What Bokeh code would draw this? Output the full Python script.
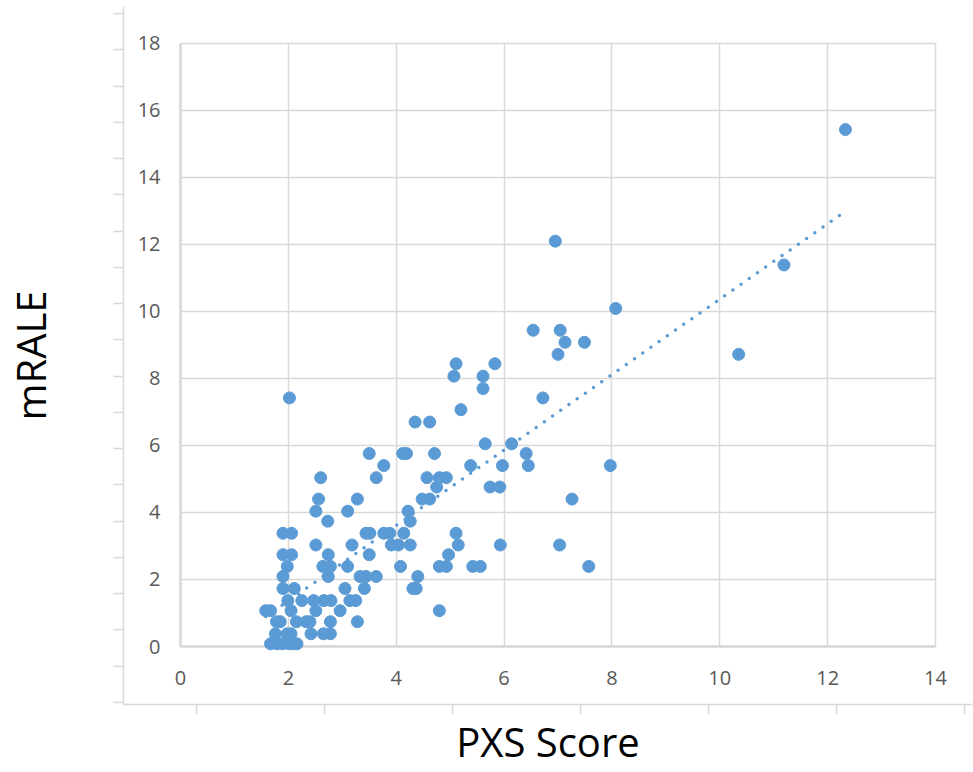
import numpy as np
from bokeh.plotting import figure
from bokeh.models import (Range1d, LinearAxis, Grid, FixedTicker, SingleIntervalTicker,
                          ColumnDataSource, CustomLabelingPolicy)
from bokeh.embed import file_html
from bokeh.resources import INLINE

# ---- data (PXS Score vs mRALE) ----
pxs_score = [
    1.67, 1.79, 1.89, 2.01, 2.10, 2.16,
    1.76, 1.98, 2.05, 2.42, 2.65, 2.78,
    1.78, 1.85, 2.15, 2.33, 2.40, 2.78, 3.28,
    1.58, 1.67, 2.05, 2.51, 2.96, 4.80,
    1.99, 2.25, 2.47, 2.66, 2.79, 3.14, 3.25,
    1.90, 2.11, 3.05, 3.41, 4.31, 4.37,
    1.90, 2.74, 3.33, 3.44, 3.63, 4.40,
    1.98, 2.64, 2.78, 3.10, 4.08, 4.80, 4.93, 5.42, 5.56, 7.57,
    1.90, 2.06, 2.74, 3.50, 4.97,
    2.51, 3.18, 3.91, 4.04, 4.26, 5.15, 5.93, 7.03,
    1.90, 2.06, 3.44, 3.51, 3.77, 3.88, 4.14, 5.11,
    2.73, 4.26,
    2.51, 3.10, 4.22,
    2.56, 3.28, 4.48, 4.62, 7.26,
    4.75, 5.74, 5.92,
    2.60, 3.63, 4.57, 4.80, 4.93,
    3.77, 5.38, 5.97, 6.45, 7.97,
    3.50, 4.12, 4.19, 4.71, 6.41,
    5.65, 6.14,
    4.35, 4.62,
    5.20,
    2.02, 6.72,
    5.61,
    5.07, 5.61,
    5.11, 5.83,
    7.00, 10.35,
    7.13, 7.49,
    6.54, 7.04,
    8.07,
    11.19,
    6.95,
    12.33,
]
mrale = (
    [0.08] * 6 + [0.38] * 6 + [0.74] * 7 + [1.07] * 6 + [1.37] * 7 + [1.73] * 6 +
    [2.09] * 6 + [2.39] * 10 + [2.74] * 5 + [3.03] * 8 + [3.38] * 8 + [3.74] * 2 +
    [4.04] * 3 + [4.40] * 5 + [4.76] * 3 + [5.04] * 5 + [5.40] * 5 + [5.76] * 5 +
    [6.05] * 2 + [6.70] * 2 + [7.07] * 1 + [7.42] * 2 + [7.70] * 1 + [8.07] * 2 +
    [8.44] * 2 + [8.72] * 2 + [9.08] * 2 + [9.44] * 2 + [10.09] * 1 + [11.39] * 1 +
    [12.10] * 1 + [15.43] * 1
)

x_ticks = [0, 2, 4, 6, 8, 10, 12, 14]
y_ticks = [0, 2, 4, 6, 8, 10, 12, 14, 16, 18]
x_title = "PXS Score"
y_title = "mRALE"

# linear trendline fitted to the points (Excel-style, spans the data range)
coef = np.polyfit(pxs_score, mrale, 1)
trend_x = [min(pxs_score), max(pxs_score)]
trend_y = list(np.polyval(coef, trend_x))

# ---- styling ----
BLUE = "#5B9BD5"
GRID = "#d9d9d9"
AXIS = "#bfbfbf"
LABEL = "#595959"
FONT = "Open Sans"

p = figure(width=973, height=772,
           x_range=Range1d(-1.0569, 14.686), y_range=Range1d(-1.7313, 19.104),
           x_axis_type=None, y_axis_type=None,
           output_backend="svg", toolbar_location=None,
           min_border_left=123, min_border_right=1, min_border_top=6,
           min_border_bottom=68, outline_line_color=None)
p.background_fill_color = "white"
p.border_fill_color = "white"

# outer frame axes (tick marks only, no labels)
p.extra_x_ranges = {"outer_x": Range1d(-0.5703, 6.0625)}
p.extra_y_ranges = {"outer_y": Range1d(-0.0552, 19.200)}

no_labels = CustomLabelingPolicy(code="""
    const all = [...indices]
    for (const i of all) indices.unset(i)
    return indices
""")

ox = LinearAxis(x_range_name="outer_x", ticker=SingleIntervalTicker(interval=1, num_minor_ticks=0))
oy = LinearAxis(y_range_name="outer_y", ticker=SingleIntervalTicker(interval=1, num_minor_ticks=0))
for ax in (ox, oy):
    ax.axis_line_color = GRID
    ax.axis_line_width = 1.5
    ax.major_tick_line_color = GRID
    ax.major_tick_line_width = 1.5
    ax.major_tick_in = 0
    ax.major_tick_out = 10
    ax.minor_tick_line_color = None
    ax.major_label_policy = no_labels
    ax.major_label_text_font_size = "1px"
    ax.major_label_standoff = 0
    ax.axis_label_text_font = FONT
    ax.axis_label_text_font_size = "40px"
    ax.axis_label_text_font_style = "normal"
    ax.axis_label_text_color = "black"
ox.axis_label = x_title
ox.axis_label_standoff = -5
oy.axis_label = y_title
oy.axis_label_standoff = 51
p.add_layout(ox, "below")
p.add_layout(oy, "left")

# inner chart axes (tick labels) anchored at 0
ix = LinearAxis(ticker=FixedTicker(ticks=x_ticks), fixed_location=0, bounds=(0, 14))
iy = LinearAxis(ticker=FixedTicker(ticks=y_ticks), fixed_location=0, bounds=(0, 18))
for ax in (ix, iy):
    ax.axis_line_color = AXIS
    ax.axis_line_width = 2
    ax.major_tick_in = 0
    ax.major_tick_out = 0
    ax.minor_tick_line_color = None
    ax.major_label_text_font = FONT
    ax.major_label_text_font_size = "20px"
    ax.major_label_text_color = LABEL
    ax.level = "underlay"
ix.major_label_standoff = 24
iy.major_label_standoff = 20
p.add_layout(ix, "below")
p.add_layout(iy, "left")

gx = Grid(dimension=0, ticker=FixedTicker(ticks=x_ticks), cross_bounds=(0, 18),
          grid_line_color=GRID, grid_line_width=1.5)
gy = Grid(dimension=1, ticker=FixedTicker(ticks=y_ticks), cross_bounds=(0, 14),
          grid_line_color=GRID, grid_line_width=1.5)
p.add_layout(gx)
p.add_layout(gy)

src = ColumnDataSource(data=dict(pxs=pxs_score, mrale=mrale))
p.scatter(x="pxs", y="mrale", source=src, size=12,
          fill_color=BLUE, line_color=BLUE, line_width=1)
p.line(trend_x, trend_y, line_color=BLUE, line_width=3.5,
       line_dash="0 10", line_cap="round")

open("out.html", "w").write(file_html(p, INLINE))
print(coef)
